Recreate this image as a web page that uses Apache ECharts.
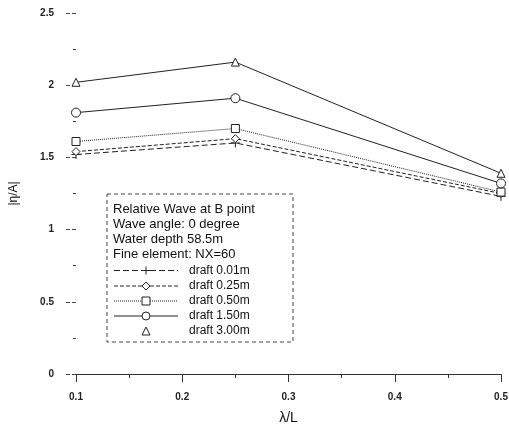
<!DOCTYPE html>
<html><head><meta charset="utf-8">
<script src="https://cdn.jsdelivr.net/npm/echarts@6/dist/echarts.min.js"></script>
<style>html,body{margin:0;padding:0;background:#fff}#c{width:509px;height:425px}</style>
</head><body><div id="c"></div>
<script>
var xValues = [0.1, 0.25, 0.5];
var seriesNames = ['draft 0.01m', 'draft 0.25m', 'draft 0.50m', 'draft 1.50m', 'draft 3.00m'];
var draft001 = [1.52, 1.60, 1.23];
var draft025 = [1.54, 1.63, 1.25];
var draft050 = [1.61, 1.70, 1.26];
var draft150 = [1.81, 1.91, 1.32];
var draft300 = [2.02, 2.16, 1.39];
var legendTitleLines = ['Relative Wave at B point', 'Wave angle: 0 degree', 'Water depth 58.5m', 'Fine element: NX=60'];
var xTicks = [0.1, 0.2, 0.3, 0.4, 0.5];
var yTicks = [0, 0.5, 1, 1.5, 2, 2.5];

var allValues = [draft001, draft025, draft050, draft150, draft300];
var symbols = ['path://M0,5L10,5M5,0L5,10', 'diamond', 'rect', 'circle', 'triangle'];
var sizes = [9, 8, 8, 9, 8];
var lineTypes = [[6,3], 'dashed', 'dotted', 'solid', 'solid'];
var ink = '#222';

var series = seriesNames.map(function (n, i) {
  return {
    name: n, type: 'line',
    data: xValues.map(function (x, j) { return [x, allValues[i][j]]; }),
    symbol: symbols[i], symbolSize: sizes[i], showAllSymbol: true,
    itemStyle: { color: i === 0 ? 'none' : '#fff', borderColor: ink, borderWidth: 1 },
    lineStyle: { color: ink, width: 1, type: lineTypes[i] },
    emphasis: { disabled: true }, animation: false
  };
});

var fontF = '"Liberation Sans", Arial, sans-serif';
var chart = echarts.init(document.getElementById('c'), null, { renderer: 'canvas' });
var graphics = [{
  type: 'rect', shape: { x: 107, y: 194, width: 186, height: 148 },
  style: { fill: '#fff', stroke: '#444', lineWidth: 1, lineDash: [4, 3] }, z: 5
}];
legendTitleLines.forEach(function (t, i) {
  graphics.push({ type: 'text', left: 113, top: 203 + i * 15, z: 6,
    style: { text: t, font: '13px ' + fontF, fill: '#111' } });
});

chart.setOption({
  backgroundColor: '#fff',
  animation: false,
  grid: { left: 76, right: 8, top: 13, bottom: 51, outerBoundsMode: 'none', containLabel: false },
  xAxis: {
    type: 'value', min: 0.1, max: 0.5, interval: 0.1,
    name: 'λ/L', nameLocation: 'middle', nameGap: 37,
    nameTextStyle: { fontFamily: fontF, fontSize: 14, color: '#111' },
    axisLine: { show: true, lineStyle: { color: '#333', width: 1 } },
    axisTick: { show: true, inside: false, length: 8, lineStyle: { color: '#333' } },
    minorTick: { show: true, splitNumber: 2, length: 4, lineStyle: { color: '#333' } },
    splitLine: { show: false },
    axisLabel: { margin: 18, fontFamily: fontF, fontSize: 10, fontWeight: 'bold', color: '#222',
      formatter: function (v) { return xTicks.indexOf(Math.round(v * 10) / 10) >= 0 ? v.toFixed(1) : ''; } }
  },
  yAxis: {
    type: 'value', min: 0, max: 2.5, interval: 0.5,
    name: '|η/A|', nameLocation: 'middle', nameGap: 56, nameRotate: 90,
    nameTextStyle: { fontFamily: fontF, fontSize: 12, color: '#111' },
    axisLine: { show: false },
    axisTick: { show: true, length: 12, lineStyle: { color: '#444', type: 'dashed' } },
    minorTick: { show: true, splitNumber: 2, length: 3, lineStyle: { color: '#444' } },
    splitLine: { show: false },
    axisLabel: { margin: 22, fontFamily: fontF, fontSize: 10, fontWeight: 'bold', color: '#222',
      formatter: function (v) { return yTicks.indexOf(v) >= 0 ? String(v) : ''; } }
  },
  legend: {
    orient: 'vertical', left: 108, top: 259,
    itemWidth: 64, itemHeight: 10, itemGap: 3,
    textStyle: { fontFamily: fontF, fontSize: 12, lineHeight: 12, color: '#111', padding: [0, 0, 0, 6] },
    data: seriesNames.map(function (n, i) {
      return {
        name: n,
        lineStyle: i === 4 ? { opacity: 0 } : { width: 1, type: lineTypes[i], color: ink },
        itemStyle: { borderWidth: 1, borderColor: ink }
      };
    }),
    selectedMode: false, z: 7
  },
  graphic: graphics,
  series: series
});
</script></body></html>
